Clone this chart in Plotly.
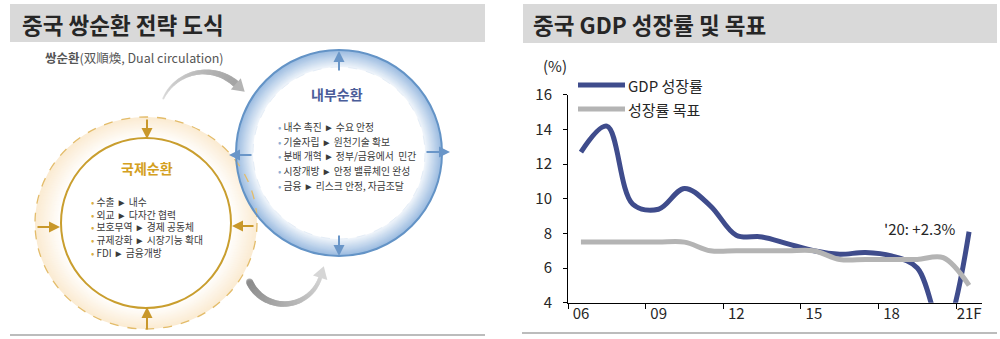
import numpy as np
import plotly.graph_objects as go

FONT = "Noto Sans CJK KR"
TEXT = "#262626"
NAVY = "#3F4C8C"
GREY = "#B4B4B4"

# ---- GDP chart data ----
years = list(range(2006, 2022))
gdp_growth = [12.7, 14.2, 9.7, 9.4, 10.6, 9.6, 7.9, 7.8, 7.4, 7.0, 6.8, 6.9, 6.7, 6.0, 2.3, 8.1]
growth_target = [7.5, 7.5, 7.5, 7.5, 7.5, 7.0, 7.0, 7.0, 7.0, 7.0, 6.5, 6.5, 6.5, 6.5, 6.6, 5.0]
series_names = ["GDP 성장률", "성장률 목표"]
tick_pos = [2005.5, 2008.5, 2011.5, 2014.5, 2017.5, 2020.5]
tick_text = ["06", "09", "12", "15", "18", "21F"]
y_ticks = [4, 6, 8, 10, 12, 14, 16]

# ---- diagram text ----
panel_titles = ["중국 쌍순환 전략 도식", "중국 GDP 성장률 및 목표"]
diagram_caption = "<b>쌍순환</b>(双順煥, Dual circulation)"
domestic_title = "내부순환"
domestic_items = ["내수 촉진 ► 수요 안정", "기술자립 ► 원천기술 확보", "분배 개혁 ► 정부/금융에서  민간",
                  "시장개방 ► 안정 밸류체인 완성", "금융 ► 리스크 안정, 자금조달"]
external_title = "국제순환"
external_items = ["수출 ► 내수", "외교 ► 다자간 협력", "보호무역 ► 경제 공동체",
                  "규제강화 ► 시장기능 확대", "FDI ► 금융개방"]

fig = go.Figure()
shapes = []
annotations = []


def hex2rgb(c):
    c = c.lstrip("#")
    return [int(c[i:i + 2], 16) for i in (0, 2, 4)]


def mix(c1, c2, t):
    a, b = hex2rgb(c1), hex2rgb(c2)
    r = [round(a[i] + (b[i] - a[i]) * t) for i in range(3)]
    return "rgb(%d,%d,%d)" % tuple(r)


def px_shape(**kw):
    d = dict(xref="x2", yref="y2")
    d.update(kw)
    shapes.append(d)


def px_text(x, y, text, size=12, color=TEXT, xanchor="left", **kw):
    annotations.append(dict(xref="x2", yref="y2", x=x, y=y, text=text, showarrow=False,
                            xanchor=xanchor, yanchor="middle", borderpad=0,
                            font=dict(family=FONT, size=size, color=color), **kw))


def px_arrow(x0, y0, x1, y1, color):
    annotations.append(dict(xref="x2", yref="y2", axref="x2", ayref="y2",
                            x=x1, y=y1, ax=x0, ay=y0, text="", showarrow=True,
                            arrowhead=2, arrowsize=1.1, arrowwidth=2, arrowcolor=color))


def ring(cx, cy, rx_out, ry_out, r_in, c_out, c_in, steps):
    for i in range(steps + 1):
        t = i / steps
        rx = rx_out - (rx_out - r_in) * t
        ry = ry_out - (ry_out - r_in) * t
        px_shape(type="circle", x0=cx - rx, x1=cx + rx, y0=cy - ry, y1=cy + ry,
                 fillcolor=mix(c_out, c_in, t), line=dict(width=0), layer="below")


def arc_stroke(cx, cy, r, a0, a1, w0, w1, c0, c1, head_col, head_len=12, head_w=15, n=90):
    t = np.linspace(0, 1, n)
    ang = np.radians(a0 + (a1 - a0) * t)
    xs = cx + r * np.cos(ang)
    ys = cy - r * np.sin(ang)
    fig.add_trace(go.Scatter(x=xs, y=ys, xaxis="x2", yaxis="y2", mode="markers",
                             marker=dict(size=w0 + (w1 - w0) * t,
                                         color=[mix(c0, c1, v) for v in t],
                                         line=dict(width=0)),
                             hoverinfo="skip", showlegend=False))
    e = np.radians(a1)
    sgn = 1 if a1 > a0 else -1
    dx, dy = -np.sin(e) * sgn, -np.cos(e) * sgn
    nx, ny = np.cos(e), -np.sin(e)
    ex, ey = xs[-1], ys[-1]
    tip = (ex + dx * head_len, ey + dy * head_len)
    b1 = (ex + nx * head_w / 2, ey + ny * head_w / 2)
    b2 = (ex - nx * head_w / 2, ey - ny * head_w / 2)
    px_shape(type="path", path="M%.1f,%.1f L%.1f,%.1f L%.1f,%.1f Z" % (tip + b1 + b2),
             fillcolor=head_col, line=dict(width=0))


# ---- panel headers and footers ----
px_shape(type="rect", x0=10, x1=485, y0=4, y1=42, fillcolor="#D9D9D9", line=dict(width=0), layer="below")
px_shape(type="rect", x0=523, x1=997, y0=4, y1=43, fillcolor="#D9D9D9", line=dict(width=0), layer="below")
px_shape(type="line", x0=10, x1=485, y0=335, y1=335, line=dict(color="#A6A6A6", width=1.5))
px_shape(type="line", x0=522, x1=997, y0=333, y1=333, line=dict(color="#A6A6A6", width=1.5))
px_text(21, 24, "<b>%s</b>" % panel_titles[0], size=22.5, color="#262626")
px_text(532, 24, "<b>%s</b>" % panel_titles[1], size=22.5, color="#262626")

# ---- dual circulation diagram ----
px_text(44, 57, diagram_caption, size=12.5, color="#555555")

# external (international) circulation
ext_c = (146, 223)
ring(ext_c[0], ext_c[1], 111, 106, 85, "#FBEBD2", "#FFFFFF", 26)
px_shape(type="circle", x0=ext_c[0] - 111, x1=ext_c[0] + 111, y0=ext_c[1] - 106, y1=ext_c[1] + 106,
         line=dict(color="#E3BC6A", width=1.3, dash="dash"))
px_shape(type="circle", x0=ext_c[0] - 85, x1=ext_c[0] + 85, y0=ext_c[1] - 85, y1=ext_c[1] + 85,
         fillcolor="white", line=dict(color="#C99E2E", width=2))

# internal (domestic) circulation
dom_c = (339, 153)
ring(dom_c[0], dom_c[1], 103, 103, 86, "#9BBBE0", "#F4F8FC", 17)
px_shape(type="circle", x0=dom_c[0] - 103, x1=dom_c[0] + 103, y0=dom_c[1] - 103, y1=dom_c[1] + 103,
         line=dict(color="#6393C6", width=2))
px_shape(type="circle", x0=dom_c[0] - 86, x1=dom_c[0] + 86, y0=dom_c[1] - 86, y1=dom_c[1] + 86,
         fillcolor="white", line=dict(color="#E4EDF7", width=1, dash="dash"))

# gray flow arrows between the circles
arc_stroke(205, 118, 46, 155, 48, 2, 7, "#D6D6D6", "#A4A4A4", "#B4B4B4")
arc_stroke(284, 266, 38, 205, 342, 7, 4, "#8A8A8A", "#D2D2D2", "#D6D6D6")

# arrows on the rings
blue_arrow = "#6A96C8"
px_arrow(339, 72, 339, 51, blue_arrow)
px_arrow(425, 152, 450, 152, blue_arrow)
px_arrow(339, 234, 339, 256, blue_arrow)
px_arrow(253, 155, 229, 155, blue_arrow)
gold_arrow = "#C9982A"
px_arrow(147, 118, 147, 139, gold_arrow)
px_arrow(147, 331, 147, 307, gold_arrow)
px_arrow(36, 227, 60, 227, gold_arrow)
px_arrow(255, 226, 232, 226, gold_arrow)

# circle texts
px_text(dom_c[0] - 2, 94, "<b>%s</b>" % domestic_title, size=14, color="#4A5D99", xanchor="center")
for i, item in enumerate(domestic_items):
    px_text(277, 127 + i * 14.7, "<span style='color:#8FAFD6'>•</span> " + item,
            size=9.8, color="#3A3A3A")

px_text(147, 168, "<b>%s</b>" % external_title, size=14, color="#D4A021", xanchor="center")
px_text(90, 227, "<br>".join("<span style='color:#D9AE45'>•</span> " + s for s in external_items),
        size=9.8, color="#3A3A3A", align="left")

# ---- GDP growth chart ----
fig.add_trace(go.Scatter(x=years, y=gdp_growth, mode="lines", name=series_names[0],
                         line=dict(color=NAVY, width=5, shape="spline", smoothing=1),
                         showlegend=False))
fig.add_trace(go.Scatter(x=years, y=growth_target, mode="lines", name=series_names[1],
                         line=dict(color=GREY, width=5, shape="spline", smoothing=1),
                         showlegend=False))

# legend
px_shape(type="line", x0=578, x1=625, y0=85, y1=85, line=dict(color=NAVY, width=5))
px_shape(type="line", x0=578, x1=625, y0=109, y1=109, line=dict(color=GREY, width=5))
px_text(627, 85, series_names[0], size=15)
px_text(627, 109, series_names[1], size=15)
px_text(555, 65, "(%)", size=15, xanchor="center")

v2020 = gdp_growth[years.index(2020)]
annotations.append(dict(xref="x", yref="y", x=2020.55, y=8.3, text="'20: +%.1f%%" % v2020,
                        showarrow=False, xanchor="right", yanchor="middle",
                        font=dict(family=FONT, size=15, color=TEXT)))

axis_font = dict(family=FONT, size=15, color=TEXT)
fig.update_layout(
    width=1000, height=339,
    margin=dict(l=0, r=0, t=0, b=0, pad=0, autoexpand=False),
    paper_bgcolor="white", plot_bgcolor="rgba(0,0,0,0)",
    showlegend=False,
    font=dict(family=FONT, size=15, color=TEXT),
    xaxis=dict(domain=[0.568, 0.982], range=[2005.5, 2021.5], tickmode="array",
               tickvals=tick_pos, ticktext=tick_text, ticklabelshift=13,
               ticklabelstandoff=-8,
               ticks="outside", ticklen=5, tickcolor="black", showline=True,
               linecolor="black", linewidth=1, showgrid=False, zeroline=False,
               tickfont=axis_font, fixedrange=True, automargin=False),
    yaxis=dict(domain=[0.1071, 0.7198], range=[4, 16], tickmode="array", tickvals=y_ticks,
               ticks="outside", ticklen=4, tickcolor="black", showline=True,
               linecolor="black", linewidth=1, showgrid=False, zeroline=False,
               ticklabelstandoff=8, tickfont=axis_font, fixedrange=True, automargin=False),
    xaxis2=dict(domain=[0, 1], range=[0, 1000], visible=False, anchor="y2",
                fixedrange=True, automargin=False),
    yaxis2=dict(domain=[0, 1], range=[339, 0], visible=False, anchor="x2",
                fixedrange=True, automargin=False),
    shapes=shapes,
    annotations=annotations,
)

fig.write_html("out.html")
